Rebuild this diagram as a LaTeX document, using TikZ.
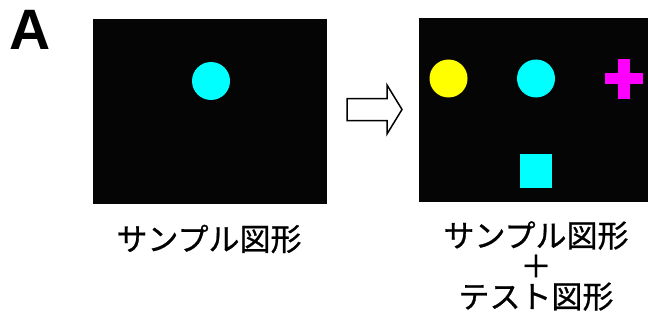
\documentclass[tikz,border=0pt]{standalone}
\usepackage{fontspec}
\setsansfont{Liberation Sans}
\newfontfamily\jpfont[FakeBold=0.8]{Noto Sans CJK JP}
\definecolor{scrblack}{HTML}{050505}
\definecolor{figcyan}{HTML}{00FFFF}
\definecolor{figyellow}{HTML}{FFFF00}
\definecolor{figmagenta}{HTML}{FF00FF}

\begin{document}
\begin{tikzpicture}[
  x=1pt, y=-1pt,
  screen/.style={fill=scrblack, inner sep=0pt},
  caption/.style={font=\jpfont\fontsize{31}{30.5}\selectfont, inner sep=0pt, align=center},
]
\useasboundingbox (0,0) rectangle (648,321);

\node [font=\sffamily\bfseries\fontsize{57}{57}\selectfont, inner sep=0pt] (panel) at (30,30) {A};

\begin{scope}
	\node [screen, minimum width=234pt, minimum height=185pt] (sample) at (210,111.5) {};
	\fill [figcyan] (211,81) circle [radius=19];
	\node [caption] (samplelbl) at (209,239) {サンプル図形};
\end{scope}

\draw [line width=1.5pt, fill=white] (347,98.5) -- (387,98.5) -- (387,85) -- (402,109.5)
	-- (387,134) -- (387,120.5) -- (347,120.5) -- cycle;

\begin{scope}
	\node [screen, minimum width=229pt, minimum height=184pt] (test) at (533.5,110) {};
	\fill [figyellow] (448.5,78.5) circle [radius=19];
	\fill [figcyan] (536,78.5) circle [radius=19];
	\fill [figmagenta] (618,59) rectangle (630,99);
	\fill [figmagenta] (605,73.5) rectangle (643,84.5);
	\fill [figcyan] (520,154) rectangle (552,188);
	\node [caption] (testlbl) at (536,266) {サンプル図形\\＋\\テスト図形};
\end{scope}

\end{tikzpicture}
\end{document}
